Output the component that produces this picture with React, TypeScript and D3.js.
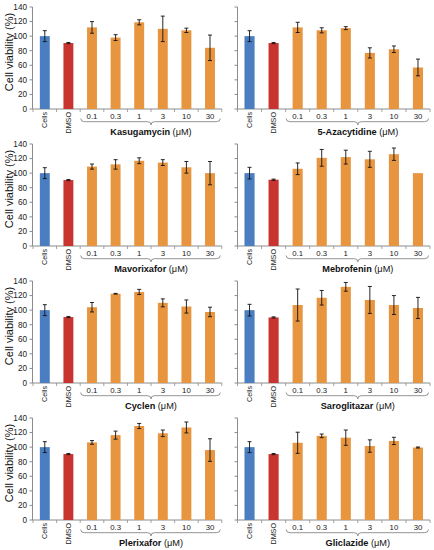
import React from "react";
import * as d3 from "d3";

const categories = ["Cells", "DMSO", "0.1", "0.3", "1", "3", "10", "30"];
const yTicks = [0, 20, 40, 60, 80, 100, 120, 140];
const drugNames = [
  "Kasugamycin",
  "5-Azacytidine",
  "Mavorixafor",
  "Mebrofenin",
  "Cyclen",
  "Saroglitazar",
  "Plerixafor",
  "Gliclazide",
];

const kasugamycinMean = [100, 90.5, 112, 98, 119, 110, 108, 84];
const kasugamycinErr = [7.5, 0.8, 8, 4, 3.5, 17.5, 3, 17.5];
const azacytidineMean = [100, 90.5, 112, 108, 111, 77, 82, 57];
const azacytidineErr = [7.5, 0.8, 7, 3.5, 2, 7, 4.5, 11.5];
const mavorixaforMean = [100, 90.5, 109, 112, 117, 114.5, 108, 100];
const mavorixaforErr = [7.5, 0.8, 3.5, 6.5, 4, 4, 8, 16];
const mebrofeninMean = [100, 91, 106, 121, 122, 119, 126, 100];
const mebrofeninErr = [8, 0.8, 8, 11.5, 9.5, 11, 8.5, 0];
const cyclenMean = [100, 90.5, 104, 122.5, 125, 110, 105, 97.5];
const cyclenErr = [7.5, 0.8, 6.5, 0.5, 3.5, 5.5, 9, 6.5];
const saroglitazarMean = [100, 90, 107, 117, 132, 114, 107, 103];
const saroglitazarErr = [8, 0.8, 22, 10, 6, 18.5, 13, 14.5];
const plerixaforMean = [100, 90.5, 106.5, 116.5, 129, 119, 127, 96];
const plerixaforErr = [7.5, 0.8, 2.5, 5.5, 3.5, 4.5, 7.5, 15.5];
const gliclazideMean = [100, 90.5, 106, 115.5, 113, 101.5, 108.5, 99.5];
const gliclazideErr = [7.5, 0.8, 14.5, 2.5, 10.5, 8.5, 5, 0.7];

const means = [
  kasugamycinMean,
  azacytidineMean,
  mavorixaforMean,
  mebrofeninMean,
  cyclenMean,
  saroglitazarMean,
  plerixaforMean,
  gliclazideMean,
];
const errs = [
  kasugamycinErr,
  azacytidineErr,
  mavorixaforErr,
  mebrofeninErr,
  cyclenErr,
  saroglitazarErr,
  plerixaforErr,
  gliclazideErr,
];

const BLUE = "#4a7ec0";
const RED = "#c8342f";
const ORANGE = "#e8953f";
const AXIS = "#8c8c8c";
const FONT = "'Liberation Sans', Arial, Helvetica, sans-serif";

function colorFor(c: string) {
  if (c === "Cells") return BLUE;
  if (c === "DMSO") return RED;
  return ORANGE;
}

function Panel({ idx }: { idx: number }) {
  const col = idx % 2;
  const row = Math.floor(idx / 2);
  const axisX = col === 0 ? 32.5 : 237.5;
  const xStart = col === 0 ? 33 : 237.5;
  const xEnd = col === 0 ? 221.8 : 430;
  const top = 7 + 137 * row;
  const bottom = 109 + 137 * row;

  const x = d3
    .scaleBand<string>()
    .domain(categories)
    .range([xStart, xEnd])
    .paddingInner(0.58)
    .paddingOuter(0.29);
  const y = d3.scaleLinear().domain([0, 140]).range([bottom, top]);
  const step = x.step();
  const mean = means[idx];
  const err = errs[idx];

  const braceL = x("0.1")! - (step - x.bandwidth()) / 2 + 0.5;
  const braceR = x("30")! + x.bandwidth() + (step - x.bandwidth()) / 2 - 1.5;
  const braceMid = (x("0.1")! + x("30")! + x.bandwidth()) / 2;
  const yb = bottom + 12.7;
  const bracePath = `M${braceL},${yb - 3.2} Q${braceL},${yb} ${braceL + 4},${yb} L${braceMid - 3.5},${yb} Q${braceMid},${yb} ${braceMid},${yb + 3.2} Q${braceMid},${yb} ${braceMid + 3.5},${yb} L${braceR - 4},${yb} Q${braceR},${yb} ${braceR},${yb - 3.2}`;

  const boundaries = d3.range(categories.length + 1).map((i) => xStart + i * step);

  return (
    <g>
      {/* y axis */}
      <line x1={axisX} x2={axisX} y1={y(140)} y2={y(0)} stroke={AXIS} strokeWidth={1} />
      {yTicks.map((t) => (
        <g key={t}>
          <line x1={axisX - 3} x2={axisX} y1={y(t)} y2={y(t)} stroke={AXIS} strokeWidth={1} />
          {col === 0 && (
            <text
              x={axisX - 5.5}
              y={y(t)}
              dy="0.34em"
              textAnchor="end"
              fontSize={8.2}
              fill="#222"
              fontFamily={FONT}
            >
              {t}
            </text>
          )}
        </g>
      ))}
      {col === 0 && (
        <text
          transform={`translate(13,${(top + bottom) / 2 - 6}) rotate(-90)`}
          textAnchor="middle"
          fontSize={11}
          fill="#111"
          fontFamily={FONT}
        >
          Cell viability (%)
        </text>
      )}
      {/* x axis */}
      <line x1={axisX} x2={xEnd} y1={y(0)} y2={y(0)} stroke={AXIS} strokeWidth={1} />
      {boundaries.map((b, i) => (
        <line key={i} x1={b} x2={b} y1={y(0)} y2={y(0) + 3} stroke={AXIS} strokeWidth={0.8} />
      ))}
      {/* bars */}
      {categories.map((c, i) => (
        <rect
          key={c}
          x={x(c)}
          y={y(mean[i])}
          width={x.bandwidth()}
          height={y(0) - y(mean[i])}
          fill={colorFor(c)}
        />
      ))}
      {/* error bars */}
      {categories.map((c, i) => {
        if (err[i] <= 0) return null;
        const cx = x(c)! + x.bandwidth() / 2;
        const hi = y(mean[i] + err[i]);
        const lo = y(mean[i] - err[i]);
        return (
          <g key={"e" + c} stroke="#111" strokeWidth={0.9}>
            <line x1={cx} x2={cx} y1={hi} y2={lo} />
            <line x1={cx - 2} x2={cx + 2} y1={hi} y2={hi} />
            <line x1={cx - 2} x2={cx + 2} y1={lo} y2={lo} />
          </g>
        );
      })}
      {/* category labels */}
      {categories.map((c) => {
        const cx = x(c)! + x.bandwidth() / 2;
        if (c === "Cells" || c === "DMSO") {
          return (
            <text
              key={"l" + c}
              transform={`translate(${cx + 2.5},${bottom + 3}) rotate(-90)`}
              textAnchor="end"
              fontSize={7.2}
              fill="#222"
              fontFamily={FONT}
            >
              {c}
            </text>
          );
        }
        return (
          <text
            key={"l" + c}
            x={cx}
            y={bottom + 9.8}
            textAnchor="middle"
            fontSize={7.8}
            fill="#222"
            fontFamily={FONT}
          >
            {c}
          </text>
        );
      })}
      <path d={bracePath} fill="none" stroke="#777" strokeWidth={0.8} />
      <text
        x={braceMid}
        y={bottom + 26}
        textAnchor="middle"
        fontSize={9.2}
        fill="#111"
        fontFamily={FONT}
      >
        <tspan fontWeight="bold">{drugNames[idx]}</tspan>
        <tspan> (μM)</tspan>
      </text>
    </g>
  );
}

export default function App() {
  return (
    <svg
      width={434}
      height={550}
      style={{ position: "absolute", left: 0, top: 0, background: "#fff" }}
    >
      <rect width={434} height={550} fill="#fff" />
      {drugNames.map((d, i) => (
        <Panel key={d} idx={i} />
      ))}
    </svg>
  );
}
